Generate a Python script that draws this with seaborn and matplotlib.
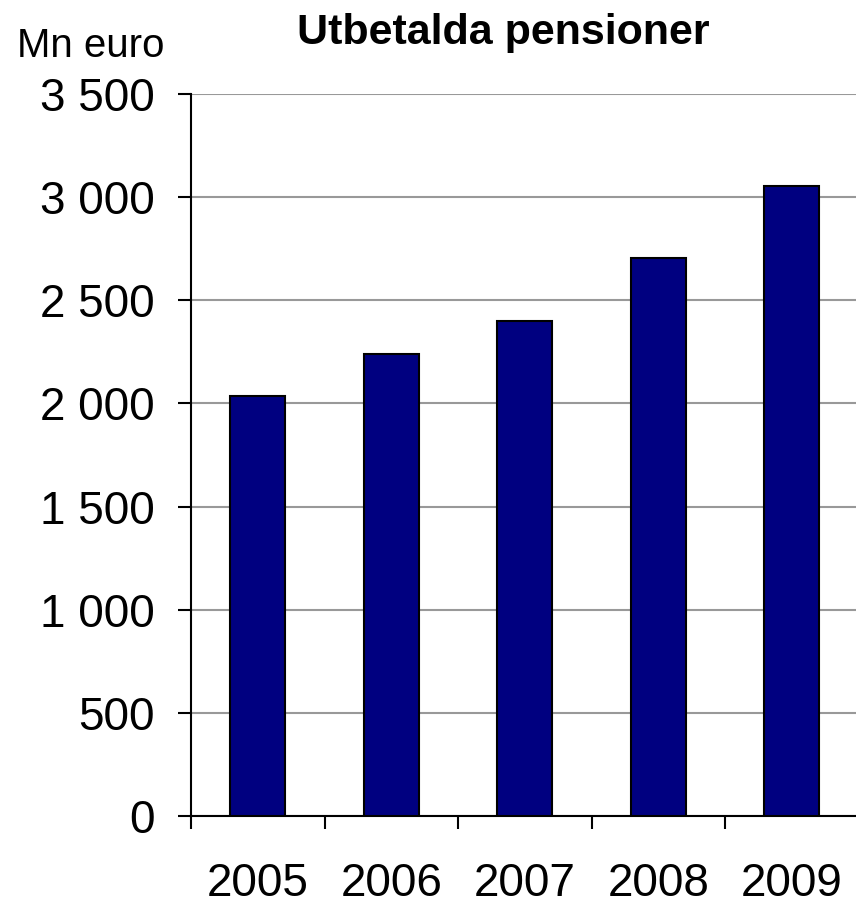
import numpy as np
import pandas as pd
import matplotlib
matplotlib.use("Agg")
import matplotlib.pyplot as plt
import seaborn as sns

# Data
years = ["2005", "2006", "2007", "2008", "2009"]
values = [2035, 2240, 2400, 2705, 3055]
ytick_values = [0, 500, 1000, 1500, 2000, 2500, 3000, 3500]
ytick_labels = ["0", "500", "1 000", "1 500", "2 000", "2 500", "3 000", "3 500"]

df = pd.DataFrame({"year": years, "value": values})

sns.set_style("white")
plt.rcParams["font.family"] = ["Liberation Sans", "DejaVu Sans"]
plt.rcParams["text.color"] = "black"
plt.rcParams["xtick.color"] = "black"
plt.rcParams["ytick.color"] = "black"
plt.rcParams["xtick.labelcolor"] = "black"
plt.rcParams["ytick.labelcolor"] = "black"

fig = plt.figure(figsize=(8.56, 9.07), dpi=100)
ax = fig.add_axes([191 / 856, 1 - 816 / 907, 667.5 / 856, (816 - 94) / 907])

sns.barplot(data=df, x="year", y="value", color="#000080", edgecolor="black",
            linewidth=1.5, width=0.41, saturation=1, ax=ax, zorder=3)

ax.set_ylim(0, 3500)
ax.set_xlim(-0.5, 4.5)
ax.set_yticks(ytick_values)
ax.set_yticklabels(ytick_labels)

# category boundaries as major ticks, year labels on minor ticks
ax.set_xticks(np.arange(-0.5, 4.6, 1.0))
ax.set_xticklabels([""] * 6)
ax.set_xticks(np.arange(len(years)), minor=True)
ax.set_xticklabels(years, minor=True)

ax.tick_params(axis="y", which="major", direction="out", length=9.4, width=1.5,
               colors="black", left=True, labelsize=33, pad=17)
ax.tick_params(axis="x", which="major", direction="out", length=9.4, width=1.5,
               colors="black", bottom=True)
ax.tick_params(axis="x", which="minor", length=0, labelsize=33, pad=33,
               labelcolor="black")

ax.yaxis.grid(True, color="#999999", linewidth=1.5, zorder=0)
ax.set_axisbelow(True)

for side in ["top", "right"]:
    ax.spines[side].set_visible(False)
for side in ["left", "bottom"]:
    ax.spines[side].set_color("black")
    ax.spines[side].set_linewidth(1.5)

ax.set_xlabel("")
ax.set_ylabel("")

fig.text(503 / 856, 1 - 44 / 907, "Utbetalda pensioner", ha="center", va="baseline",
         fontsize=31, fontweight="bold", color="black")
fig.text(17 / 856, 1 - 57 / 907, "Mn euro", ha="left", va="baseline", fontsize=29,
         color="black")

fig.savefig("out.png", dpi=100)
